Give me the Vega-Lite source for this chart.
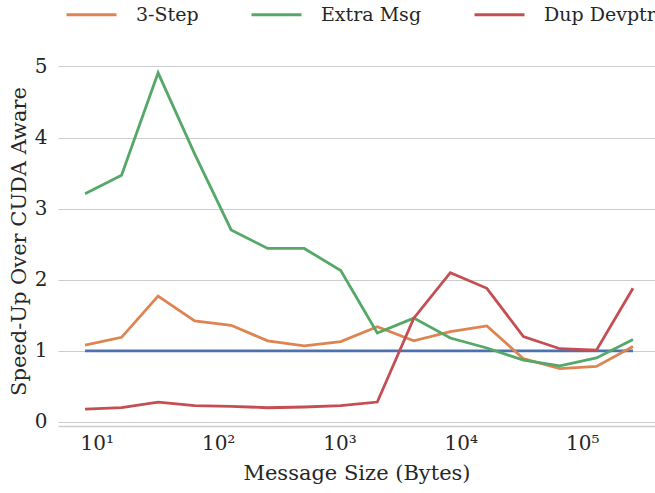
{
  "$schema": "https://vega.github.io/schema/vega-lite/v6.json",
  "width": 597,
  "height": 370,
  "autosize": {"type": "none"},
  "padding": {"left": 58, "top": 56, "right": 0, "bottom": 67},
  "background": "white",
  "config": {
    "font": "DejaVu Serif",
    "view": {"stroke": null},
    "axis": {"labelColor": "#262626", "titleColor": "#262626", "titleFontWeight": "normal"}
  },
  "data": {
    "values": [
      {"size": 8, "series": "CUDA Aware", "v": 1},
      {"size": 16, "series": "CUDA Aware", "v": 1},
      {"size": 32, "series": "CUDA Aware", "v": 1},
      {"size": 64, "series": "CUDA Aware", "v": 1},
      {"size": 128, "series": "CUDA Aware", "v": 1},
      {"size": 256, "series": "CUDA Aware", "v": 1},
      {"size": 512, "series": "CUDA Aware", "v": 1},
      {"size": 1024, "series": "CUDA Aware", "v": 1},
      {"size": 2048, "series": "CUDA Aware", "v": 1},
      {"size": 4096, "series": "CUDA Aware", "v": 1},
      {"size": 8192, "series": "CUDA Aware", "v": 1},
      {"size": 16384, "series": "CUDA Aware", "v": 1},
      {"size": 32768, "series": "CUDA Aware", "v": 1},
      {"size": 65536, "series": "CUDA Aware", "v": 1},
      {"size": 131072, "series": "CUDA Aware", "v": 1},
      {"size": 262144, "series": "CUDA Aware", "v": 1},
      {"size": 8, "series": "3-Step", "v": 1.08},
      {"size": 16, "series": "3-Step", "v": 1.19},
      {"size": 32, "series": "3-Step", "v": 1.77},
      {"size": 64, "series": "3-Step", "v": 1.42},
      {"size": 128, "series": "3-Step", "v": 1.36},
      {"size": 256, "series": "3-Step", "v": 1.14},
      {"size": 512, "series": "3-Step", "v": 1.07},
      {"size": 1024, "series": "3-Step", "v": 1.13},
      {"size": 2048, "series": "3-Step", "v": 1.34},
      {"size": 4096, "series": "3-Step", "v": 1.14},
      {"size": 8192, "series": "3-Step", "v": 1.27},
      {"size": 16384, "series": "3-Step", "v": 1.35},
      {"size": 32768, "series": "3-Step", "v": 0.89},
      {"size": 65536, "series": "3-Step", "v": 0.75},
      {"size": 131072, "series": "3-Step", "v": 0.78},
      {"size": 262144, "series": "3-Step", "v": 1.06},
      {"size": 8, "series": "Extra Msg", "v": 3.21},
      {"size": 16, "series": "Extra Msg", "v": 3.47},
      {"size": 32, "series": "Extra Msg", "v": 4.91},
      {"size": 64, "series": "Extra Msg", "v": 3.77},
      {"size": 128, "series": "Extra Msg", "v": 2.70},
      {"size": 256, "series": "Extra Msg", "v": 2.44},
      {"size": 512, "series": "Extra Msg", "v": 2.44},
      {"size": 1024, "series": "Extra Msg", "v": 2.13},
      {"size": 2048, "series": "Extra Msg", "v": 1.25},
      {"size": 4096, "series": "Extra Msg", "v": 1.46},
      {"size": 8192, "series": "Extra Msg", "v": 1.18},
      {"size": 16384, "series": "Extra Msg", "v": 1.04},
      {"size": 32768, "series": "Extra Msg", "v": 0.87},
      {"size": 65536, "series": "Extra Msg", "v": 0.79},
      {"size": 131072, "series": "Extra Msg", "v": 0.90},
      {"size": 262144, "series": "Extra Msg", "v": 1.16},
      {"size": 8, "series": "Dup Devptr", "v": 0.18},
      {"size": 16, "series": "Dup Devptr", "v": 0.20},
      {"size": 32, "series": "Dup Devptr", "v": 0.28},
      {"size": 64, "series": "Dup Devptr", "v": 0.23},
      {"size": 128, "series": "Dup Devptr", "v": 0.22},
      {"size": 256, "series": "Dup Devptr", "v": 0.20},
      {"size": 512, "series": "Dup Devptr", "v": 0.21},
      {"size": 1024, "series": "Dup Devptr", "v": 0.23},
      {"size": 2048, "series": "Dup Devptr", "v": 0.28},
      {"size": 4096, "series": "Dup Devptr", "v": 1.46},
      {"size": 8192, "series": "Dup Devptr", "v": 2.10},
      {"size": 16384, "series": "Dup Devptr", "v": 1.88},
      {"size": 32768, "series": "Dup Devptr", "v": 1.20},
      {"size": 65536, "series": "Dup Devptr", "v": 1.03},
      {"size": 131072, "series": "Dup Devptr", "v": 1.01},
      {"size": 262144, "series": "Dup Devptr", "v": 1.88}
    ]
  },
  "mark": {"type": "line", "strokeWidth": 2.8, "clip": true},
  "encoding": {
    "x": {
      "field": "size",
      "type": "quantitative",
      "scale": {"type": "log", "domain": [4.79, 398000], "nice": false},
      "axis": {
        "values": [10, 100, 1000, 10000, 100000],
        "labelExpr": "'10' + ['⁰','¹','²','³','⁴','⁵','⁶'][round(log(datum.value)/LN10)]",
        "labelFontSize": 20,
        "labelPadding": 7,
        "labelFlush": false,
        "ticks": false,
        "grid": false,
        "domain": true,
        "domainColor": "#cccccc",
        "domainWidth": 1.5,
        "title": "Message Size (Bytes)",
        "titleFontSize": 21,
        "titlePadding": 9
      }
    },
    "y": {
      "field": "v",
      "type": "quantitative",
      "scale": {"domain": [-0.057, 5.147], "nice": false, "zero": false},
      "axis": {
        "values": [0, 1, 2, 3, 4, 5],
        "grid": true,
        "gridColor": "#cccccc",
        "gridWidth": 1,
        "domain": false,
        "ticks": false,
        "labelFontSize": 20,
        "labelPadding": 11,
        "title": "Speed-Up Over CUDA Aware",
        "titleFontSize": 21,
        "titlePadding": 5
      }
    },
    "color": {
      "field": "series",
      "type": "nominal",
      "scale": {
        "domain": ["CUDA Aware", "3-Step", "Extra Msg", "Dup Devptr"],
        "range": ["#4C72B0", "#DD8452", "#55A868", "#C44E52"]
      },
      "legend": {
        "values": ["3-Step", "Extra Msg", "Dup Devptr"],
        "title": null,
        "orient": "none",
        "direction": "horizontal",
        "legendX": 7,
        "legendY": -68,
        "symbolType": "stroke",
        "symbolSize": 2500,
        "symbolStrokeWidth": 3,
        "labelFont": "DejaVu Serif",
        "labelFontSize": 19,
        "labelColor": "#262626",
        "labelOffset": 18,
        "columnPadding": 46
      }
    }
  }
}
